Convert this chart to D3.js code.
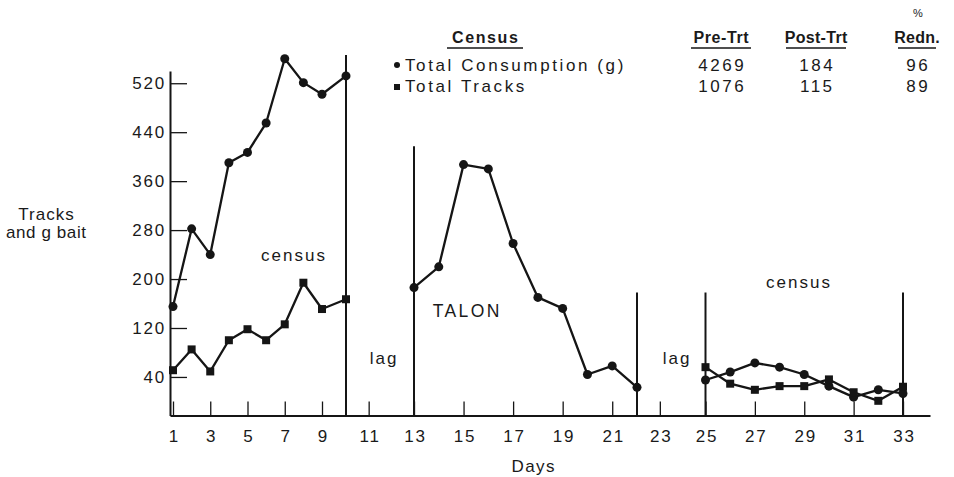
<!DOCTYPE html>
<html><head><meta charset="utf-8">
<script src="https://cdn.jsdelivr.net/npm/d3@7"></script>
<style>
body{margin:0;background:#fff}
svg{display:block}
text{font-family:"Liberation Sans",Arial,Helvetica,sans-serif;fill:#1a1a1a}
</style>
</head><body>
<svg id="chart" width="954" height="477"></svg>
<script>
// ---- data ----
const preDays = [1,2,3,4,5,6,7,8,9,10];
const preConsumption = [155,282,240,390,407,455,560,521,502,532];
const preTracks = [51,85,49,100,118,100,126,194,151,167];
const talonDays = [13,14,15,16,17,18,19,20,21,22];
const talonConsumption = [186,220,387,380,258,170,152,44,58,23];
const postDays = [25,26,27,28,29,30,31,32,33];
const postConsumption = [35,48,63,56,44,25,7,19,13];
const postTracks = [56,29,19,25,25,36,15,1,24];
const dividerDays = [10,13,22,25,33];
const dividerTops = [566,417,178,178,178];
const xTicks = [1,3,5,7,9,11,13,15,17,19,21,23,25,27,29,31,33];
const yTicks = [40,120,200,280,360,440,520];
const tableRows = ["Total Consumption (g)","Total Tracks"];
const preTrt = [4269,1076];
const postTrt = [184,115];
const reduction = [96,89];

// ---- drawing ----
const svg = d3.select("#chart");
const ink = "#151515";
const LS = 1.8;
const x = d3.scaleLinear()
  .domain([0.85,1,9,10,13,22,25,33,34.1])
  .range([170,173,322,346,414,637,705.5,903,930]);
const y = d3.scaleLinear().domain([-23,540]).range([415.5,71]);

// axes
const xAxis = d3.axisBottom(x).tickValues(xTicks).tickFormat(d3.format("d"))
  .tickSizeInner(-14).tickSizeOuter(0).tickPadding(14);
const gx = svg.append("g").attr("transform",`translate(0,${y(-23)})`).call(xAxis);
gx.select(".domain").attr("stroke",ink).attr("stroke-width",2);
gx.selectAll(".tick line").attr("stroke",ink).attr("stroke-width",1.3);
gx.selectAll("text").attr("font-size",17).attr("fill",ink).attr("letter-spacing",LS).attr("dx",LS/2);

const yAxis = d3.axisLeft(y).tickValues(yTicks).tickSizeInner(-17).tickSizeOuter(0).tickPadding(4);
const gy = svg.append("g").attr("transform",`translate(${x(0.85)},0)`).call(yAxis);
gy.select(".domain").attr("stroke",ink).attr("stroke-width",2);
gy.selectAll(".tick line").attr("stroke",ink).attr("stroke-width",1.3);
gy.selectAll("text").attr("font-size",17).attr("fill",ink).attr("letter-spacing",LS);

// divider lines
svg.append("g").selectAll("line").data(dividerDays).join("line")
  .attr("x1",d=>x(d)).attr("x2",d=>x(d))
  .attr("y1",(d,i)=>y(dividerTops[i])).attr("y2",y(-23))
  .attr("stroke",ink).attr("stroke-width",2);

// series
const line = d3.line();
function drawSeries(days, vals, shape){
  const pts = days.map((d,i)=>[x(d), y(vals[i])]);
  svg.append("path").attr("d",line(pts)).attr("fill","none")
    .attr("stroke",ink).attr("stroke-width",2.3).attr("stroke-linejoin","round");
  const g = svg.append("g");
  if(shape==="circle"){
    g.selectAll("circle").data(pts).join("circle")
      .attr("cx",p=>p[0]).attr("cy",p=>p[1]).attr("r",4.5).attr("fill",ink);
  } else {
    g.selectAll("rect").data(pts).join("rect")
      .attr("x",p=>p[0]-4).attr("y",p=>p[1]-4).attr("width",8).attr("height",8).attr("fill",ink);
  }
}
drawSeries(preDays, preConsumption, "circle");
drawSeries(preDays, preTracks, "square");
drawSeries(talonDays, talonConsumption, "circle");
drawSeries(postDays, postConsumption, "circle");
drawSeries(postDays, postTracks, "square");

// annotations
function label(txt, xp, yp, size, anchor, ls, weight){
  const s = ls===undefined ? 2 : ls;
  svg.append("text").attr("x",xp).attr("y",yp).attr("font-size",size||17)
    .attr("text-anchor",anchor||"middle").attr("letter-spacing",s)
    .attr("dx",(anchor||"middle")==="middle" ? s/2 : 0)
    .attr("font-weight",weight||"normal").text(txt);
}
label("census", 293, 261);
label("lag", 383, 364);
label("TALON", 466, 317, 17.5, "middle", 2.4);
label("lag", 676, 364);
label("census", 798, 288);
label("Tracks", 46, 220, 17, "middle", 1);
label("and g bait", 46, 238, 17, "middle", 0.6);
label("Days", 533, 472, 17, "middle", 1.5);

// table
const hdrY = 43, r1 = 71, r2 = 92;
function header(txt, cx, w, ls){
  label(txt, cx, hdrY, 16, "middle", ls, "bold");
  svg.append("line").attr("x1",cx-w/2).attr("x2",cx+w/2).attr("y1",hdrY+5).attr("y2",hdrY+5)
    .attr("stroke",ink).attr("stroke-width",1.6);
}
header("Census", 485, 76, 1.6);
header("Pre-Trt", 721, 60, 0.6);
header("Post-Trt", 816, 60, 0.3);
header("Redn.", 917, 38, 0.3);
svg.append("text").attr("x",918).attr("y",17).attr("font-size",11).attr("text-anchor","middle").text("%");
svg.append("circle").attr("cx",397).attr("cy",r1-6).attr("r",3).attr("fill",ink);
svg.append("rect").attr("x",394).attr("y",r2-8).attr("width",6).attr("height",6).attr("fill",ink);
tableRows.forEach((t,i)=>{
  const yy = i===0 ? r1 : r2;
  label(t, 405, yy, 17, "start", 2.6);
  label(preTrt[i], 721, yy, 17, "middle", 2.5);
  label(postTrt[i], 816, yy, 17, "middle", 2.5);
  label(reduction[i], 917, yy, 17, "middle", 2.5);
});
</script>
</body></html>
